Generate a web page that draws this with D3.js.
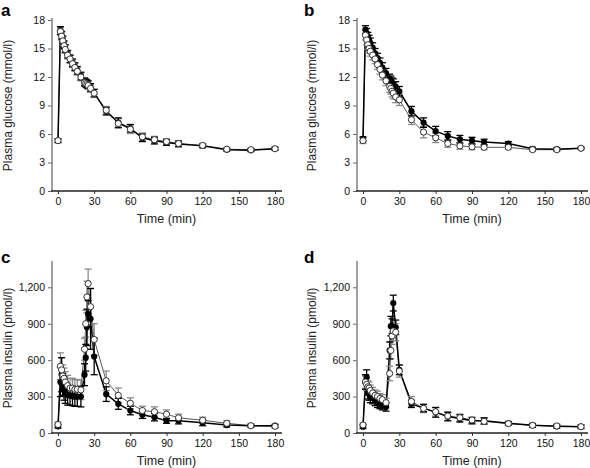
<!DOCTYPE html>
<html><head><meta charset="utf-8">
<script src="https://cdn.jsdelivr.net/npm/d3@7"></script>
<style>
body{margin:0;background:#fff;}
svg{display:block;font-family:"Liberation Sans",Arial,sans-serif;}
</style></head>
<body><svg id="c" width="590" height="468"></svg>
<script>
const times = [0,2,3,4,5,6,8,10,12,14,16,19,22,23,24,25,27,30,40,50,60,70,80,90,100,120,140,160,180];
const xTicks = [0,30,60,90,120,150,180];
const glucoseTicks = [0,3,6,9,12,15,18];
const insulinTicks = [0,300,600,900,1200];

// Panel a: plasma glucose (mmol/l)
const aFilled = [5.3,16.9,16.4,15.9,15.4,15.0,14.4,13.9,13.5,13.1,12.7,12.1,11.5,11.4,11.3,11.2,10.9,10.3,8.4,7.2,6.6,5.6,5.3,5.1,4.95,4.75,4.35,4.3,4.45];
const aFilledErr = [0.2,0.4,0.4,0.4,0.4,0.4,0.4,0.4,0.4,0.4,0.4,0.4,0.4,0.4,0.4,0.4,0.4,0.4,0.4,0.5,0.4,0.4,0.35,0.3,0.3,0.2,0.15,0.15,0.15];
const aOpen = [5.3,16.8,16.3,15.8,15.3,14.9,14.3,13.9,13.4,13.0,12.6,12.0,11.4,11.3,11.2,11.1,10.8,10.3,8.5,7.1,6.5,5.7,5.4,5.2,5.0,4.8,4.4,4.35,4.45];
const aOpenErr = [0.2,0.4,0.4,0.4,0.4,0.4,0.4,0.4,0.4,0.4,0.4,0.4,0.4,0.4,0.4,0.4,0.4,0.4,0.4,0.5,0.45,0.4,0.35,0.3,0.3,0.2,0.15,0.15,0.15];

// Panel b: plasma glucose (mmol/l)
const bFilled = [5.5,17.0,16.6,16.2,15.9,15.6,15.1,14.5,14.0,13.5,13.0,12.4,11.8,11.6,11.4,11.3,11.0,10.5,8.4,7.2,6.3,5.8,5.45,5.3,5.15,5.0,4.45,4.4,4.5];
const bFilledErr = [0.2,0.4,0.5,0.5,0.5,0.5,0.5,0.5,0.5,0.5,0.5,0.5,0.5,0.5,0.5,0.5,0.5,0.5,0.5,0.5,0.5,0.45,0.4,0.35,0.3,0.2,0.15,0.15,0.1];
const bOpen = [5.3,16.4,15.9,15.4,15.0,14.7,14.3,13.9,13.3,12.8,12.2,11.6,11.0,10.8,10.5,10.3,9.9,9.6,7.5,6.2,5.6,5.0,4.75,4.65,4.6,4.6,4.35,4.35,4.5];
const bOpenErr = [0.3,0.5,0.5,0.5,0.5,0.5,0.5,0.5,0.5,0.5,0.5,0.5,0.6,0.6,0.6,0.6,0.6,0.6,0.5,0.6,0.5,0.4,0.35,0.3,0.25,0.2,0.15,0.15,0.1];

// Panel c: plasma insulin (pmol/l)
const cFilled = [55,420,480,400,360,330,310,310,305,300,300,300,480,620,870,980,940,630,320,240,185,150,130,100,100,85,65,60,60];
const cFilledErr = [15,120,140,90,90,85,80,80,80,80,80,85,90,110,150,110,250,150,60,45,35,30,30,20,25,25,15,10,10];
const cOpen = [70,550,520,470,450,420,390,370,370,360,360,355,690,900,1120,1230,1040,770,430,310,245,185,175,155,125,105,80,60,55];
const cOpenErr = [20,110,100,90,85,85,85,80,80,80,80,80,90,110,130,120,150,130,80,60,45,35,40,35,30,25,20,15,15];

// Panel d: plasma insulin (pmol/l)
const dFilled = [52,420,460,330,320,300,290,270,255,240,230,215,680,880,880,1070,870,520,240,205,170,135,120,100,100,80,63,55,52];
const dFilledErr = [15,60,60,50,50,50,50,45,45,40,40,35,70,80,60,65,60,40,30,30,40,35,30,25,25,15,15,15,15];
const dOpen = [66,420,400,380,370,350,330,310,300,285,275,250,490,680,800,840,830,510,260,203,175,140,126,107,96,77,63,58,52];
const dOpenErr = [15,50,50,50,50,45,45,45,45,40,40,35,60,70,70,80,70,50,40,35,35,35,30,25,25,15,15,15,15];

const panels = [
  {letter:"a", filled:aFilled, fErr:aFilledErr, open:aOpen, oErr:aOpenErr, ymax:18, yticks:glucoseTicks, label:"Plasma glucose (mmol/l)",
   x0:58, x1:275, yTop:20, yBot:191, axisX:52, letterX:1, letterY:16, labelX:12},
  {letter:"b", filled:bFilled, fErr:bFilledErr, open:bOpen, oErr:bOpenErr, ymax:18, yticks:glucoseTicks, label:"Plasma glucose (mmol/l)",
   x0:363, x1:581, yTop:20, yBot:191, axisX:357, letterX:304, letterY:16, labelX:316},
  {letter:"c", filled:cFilled, fErr:cFilledErr, open:cOpen, oErr:cOpenErr, ymax:1400, yticks:insulinTicks, label:"Plasma insulin (pmol/l)",
   x0:58, x1:275, yTop:263, yBot:433, axisX:52, letterX:1, letterY:263, labelX:12},
  {letter:"d", filled:dFilled, fErr:dFilledErr, open:dOpen, oErr:dOpenErr, ymax:1400, yticks:insulinTicks, label:"Plasma insulin (pmol/l)",
   x0:363, x1:581, yTop:263, yBot:433, axisX:357, letterX:304, letterY:263, labelX:316}
];

const svg = d3.select("#c");
const fmt = d3.format(",");

panels.forEach(p => {
  const g = svg.append("g");
  const x = d3.scaleLinear().domain([0,180]).range([p.x0,p.x1]);
  const y = d3.scaleLinear().domain([0,p.ymax]).range([p.yBot,p.yTop]);

  const ya = g.append("g").attr("transform",`translate(${p.axisX},0)`)
    .call(d3.axisLeft(y).tickValues(p.yticks).tickSize(4).tickPadding(3).tickFormat(fmt).tickSizeOuter(0));
  ya.select(".domain").remove();
  ya.selectAll(".tick line").attr("stroke","#666");
  ya.selectAll("text").attr("font-size",10.5).attr("fill","#111").attr("font-family","Liberation Sans, Arial, sans-serif");
  g.append("line").attr("x1",p.axisX).attr("x2",p.axisX).attr("y1",p.yTop-2).attr("y2",p.yBot)
    .attr("stroke","#808080").attr("stroke-width",1.5);

  const xa = g.append("g").attr("transform",`translate(0,${p.yBot})`)
    .call(d3.axisBottom(x).tickValues(xTicks).tickSize(3).tickPadding(4).tickSizeOuter(0));
  xa.select(".domain").remove();
  xa.selectAll(".tick line").attr("stroke","#333");
  xa.selectAll("text").attr("font-size",10.5).attr("fill","#111").attr("font-family","Liberation Sans, Arial, sans-serif");
  g.append("line").attr("x1",p.axisX-1).attr("x2",x(180)+7).attr("y1",p.yBot).attr("y2",p.yBot)
    .attr("stroke","#222").attr("stroke-width",1.3);

  g.append("text").attr("x",(p.x0+p.x1)/2).attr("y",p.yBot+32).attr("text-anchor","middle")
    .attr("font-size",12.5).attr("fill","#222").text("Time (min)");
  g.append("text").attr("transform",`translate(${p.labelX},${(p.yTop+p.yBot)/2}) rotate(-90)`)
    .attr("text-anchor","middle").attr("font-size",12).attr("fill","#222").text(p.label);
  g.append("text").attr("x",p.letterX).attr("y",p.letterY).attr("font-size",17).attr("font-weight","bold")
    .attr("fill","#000").text(p.letter);

  const line = d3.line().x((d,i)=>x(times[i])).y(d=>y(d));

  g.append("path").datum(p.open).attr("d",line).attr("fill","none").attr("stroke","#444").attr("stroke-width",0.9);
  g.append("path").datum(p.filled).attr("d",line).attr("fill","none").attr("stroke","#000").attr("stroke-width",1.5);

  function errBars(vals, errs, color, w){
    const eg = g.append("g").attr("stroke",color).attr("stroke-width",w);
    vals.forEach((v,i)=>{
      const cx = x(times[i]);
      const yt = y(v+errs[i]), yb = y(Math.max(0,v-errs[i]));
      eg.append("line").attr("x1",cx).attr("x2",cx).attr("y1",yt).attr("y2",yb);
      eg.append("line").attr("x1",cx-3.5).attr("x2",cx+3.5).attr("y1",yt).attr("y2",yt);
      eg.append("line").attr("x1",cx-3.5).attr("x2",cx+3.5).attr("y1",yb).attr("y2",yb);
    });
  }
  errBars(p.open, p.oErr, "#8a8a8a", 1.3);
  errBars(p.filled, p.fErr, "#000", 1.3);

  g.append("g").selectAll("circle").data(p.filled).join("circle")
    .attr("cx",(d,i)=>x(times[i])).attr("cy",d=>y(d)).attr("r",3.1).attr("fill","#000");
  g.append("g").selectAll("circle").data(p.open).join("circle")
    .attr("cx",(d,i)=>x(times[i])).attr("cy",d=>y(d)).attr("r",3.1).attr("fill","#fff").attr("stroke","#333").attr("stroke-width",1);
});
</script>
</body></html>
